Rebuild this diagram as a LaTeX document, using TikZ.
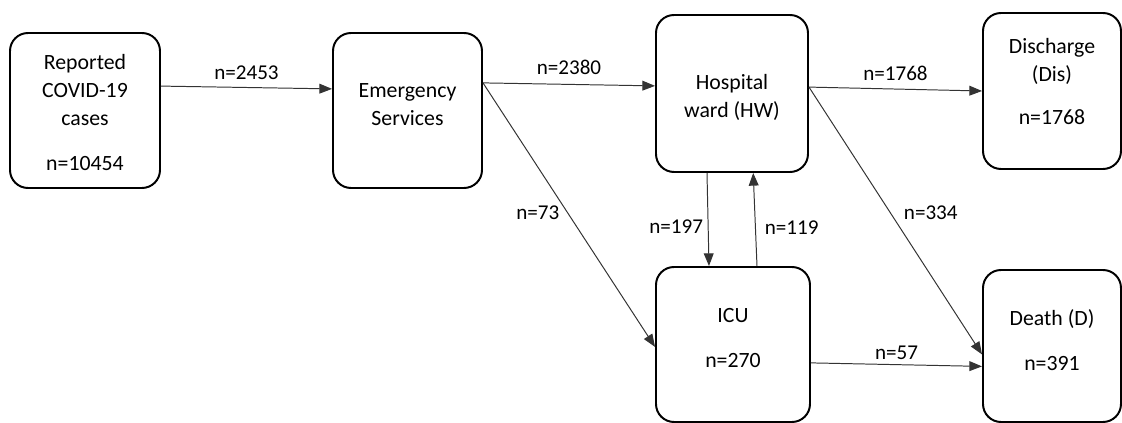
\documentclass[tikz,border=0pt]{standalone}
\usepackage{fontspec}
\setmainfont{Carlito}
\usetikzlibrary{arrows.meta}
\usetikzlibrary{positioning}

\begin{document}
\begin{tikzpicture}[
	stage/.style={draw, line width=1.4pt, rounded corners=0.45cm},
	stagetxt/.style={align=center, font=\fontsize{15.5}{20}\selectfont},
	flow/.style={draw=black!80, line width=0.7pt, -{Triangle[length=9pt,width=7pt]}},
	cnt/.style={font=\fontsize{15}{17}\selectfont}]
	\useasboundingbox (0,0) rectangle (28.05,10.575);
	% the six stages
	\node[stage, minimum width=3.75cm, minimum height=3.875cm] (rep) at (2.125,7.8125) {};
	\node[stage, minimum width=3.725cm, minimum height=3.875cm] (emg) at (10.1875,7.8125) {};
	\node[stage, minimum width=3.8cm, minimum height=3.925cm] (hw) at (18.3,8.2375) {};
	\node[stage, minimum width=3.45cm, minimum height=3.9cm] (dis) at (26.3,8.3) {};
	\node[stage, minimum width=3.85cm, minimum height=3.875cm] (icu) at (18.325,1.9625) {};
	\node[stage, minimum width=3.45cm, minimum height=3.8cm] (death) at (26.3,1.925) {};
	% their texts
	\node[stagetxt] (rep-txt) at ([yshift=-0.05cm]rep) {Reported\\COVID-19\\cases\\[12pt]n=10454};
	\node[stagetxt] (emg-txt) at ([yshift=0.15cm]emg) {Emergency\\Services};
	\node[stagetxt] (hw-txt) at ([yshift=-0.1cm]hw) {Hospital\\ward (HW)};
	\node[stagetxt] (dis-txt) at ([yshift=0.24cm]dis) {Discharge\\(Dis)\\[10pt]n=1768};
	\node[stagetxt] (icu-txt) at ([yshift=0.16cm]icu) {ICU\\[12pt]n=270};
	\node[stagetxt] (death-txt) at ([yshift=0.14cm]death) {Death (D)\\[12pt]n=391};
	% flows
	\draw[flow] ([yshift=0.61cm]rep.east) -- node[cnt, above=2pt]{n=2453} ([yshift=0.54cm]emg.west);
	\draw[flow] ([yshift=0.69cm]emg.east) -- node[cnt, above=3pt]{n=2380} ([yshift=0.19cm]hw.west);
	\draw[flow] ([yshift=0.69cm]emg.east) -- node[cnt, pos=0.49, left=2pt]{n=73} ([yshift=-0.06cm]icu.west);
	\draw[flow] ([yshift=0.16cm]hw.east) -- node[cnt, above=2pt]{n=1768} (dis.west);
	\draw[flow] ([yshift=0.16cm]hw.east) -- node[cnt, pos=0.47, right=6pt]{n=334} ([yshift=-0.21cm]death.west);
	\draw[flow] ([xshift=-0.625cm]hw.south) -- node[cnt, pos=0.58, left]{n=197} ([xshift=-0.6cm]icu.north);
	\draw[flow] ([xshift=0.6cm]icu.north) -- node[cnt, pos=0.41, right=3pt]{n=119} ([xshift=0.53cm]hw.south);
	\draw[flow] ([yshift=-0.46cm]icu.east) -- node[cnt, above]{n=57} ([yshift=-0.51cm]death.west);
\end{tikzpicture}
\end{document}
